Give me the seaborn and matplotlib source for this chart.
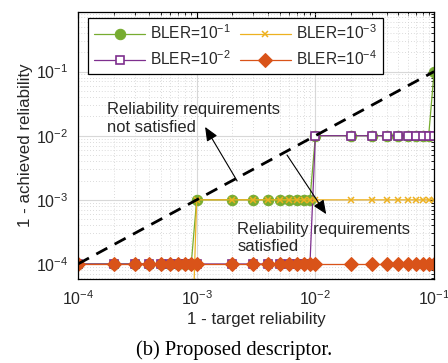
import numpy as np
import pandas as pd
import matplotlib
matplotlib.use("Agg")
import matplotlib.pyplot as plt
import seaborn as sns

# ---- data ----
target = [1e-4, 2e-4, 3e-4, 4e-4, 5e-4, 6e-4, 7e-4, 8e-4, 9e-4,
          1e-3, 2e-3, 3e-3, 4e-3, 5e-3, 6e-3, 7e-3, 8e-3, 9e-3,
          1e-2, 2e-2, 3e-2, 4e-2, 5e-2, 6e-2, 7e-2, 8e-2, 9e-2,
          1e-1]
bler1 = [1e-4] * 9 + [1e-3] * 9 + [1e-2] * 9 + [1e-1]
bler2 = [1e-4] * 18 + [1e-2] * 10
bler3 = [2e-6] * 9 + [1e-3] * 19
bler4 = [1e-4] * 28
labels = [r"BLER=10$^{-1}$", r"BLER=10$^{-2}$", r"BLER=10$^{-3}$", r"BLER=10$^{-4}$"]
diag_x = [1e-4, 1e-1]

sns.set_theme(style="white")
plt.rcParams["font.family"] = ["Liberation Sans", "DejaVu Sans"]
plt.rcParams["mathtext.fontset"] = "custom"
plt.rcParams["mathtext.rm"] = "Liberation Sans"
plt.rcParams["mathtext.it"] = "Liberation Sans:italic"
plt.rcParams["mathtext.bf"] = "Liberation Sans:bold"

fig = plt.figure(figsize=(4.48, 3.63), dpi=100)
ax = fig.add_axes([0.174, 0.231, 0.795, 0.737])

green = "#77AC30"
purple = "#7E2F8E"
yellow = "#EDB120"
orange = "#D95319"

sns.lineplot(x=target, y=bler1, ax=ax, color=green, lw=0.9, marker="o",
             markersize=7.5, markerfacecolor=green, markeredgecolor=green,
             label=labels[0], estimator=None, sort=False)
sns.lineplot(x=target, y=bler2, ax=ax, color=purple, lw=0.9, marker="s",
             markersize=6.3, markerfacecolor="white", markeredgecolor=purple,
             markeredgewidth=1.2, label=labels[1], estimator=None, sort=False)
sns.lineplot(x=target, y=bler3, ax=ax, color=yellow, lw=0.9, marker="x",
             markersize=5, markeredgecolor=yellow, markeredgewidth=1.1,
             label=labels[2], estimator=None, sort=False)
sns.lineplot(x=target, y=bler4, ax=ax, color=orange, lw=0.9, marker="D",
             markersize=7.2, markerfacecolor=orange, markeredgecolor=orange,
             label=labels[3], estimator=None, sort=False)
ax.plot(diag_x, diag_x, color="black", lw=2.0, dashes=[4.5, 3.0], zorder=5)

ax.set_xscale("log")
ax.set_yscale("log")
ax.set_xlim(1e-4, 1e-1)
ax.set_ylim(5.8e-5, 0.86)

ax.grid(True, which="major", color="#d8d8d8", lw=0.8, ls="-")
ax.grid(True, which="minor", color="#cfcfcf", lw=0.6, ls=(0, (1, 2.5)))
ax.set_axisbelow(True)

for s in ax.spines.values():
    s.set_color("black")
    s.set_linewidth(0.9)
ax.tick_params(which="both", direction="in", top=True, right=True,
               colors="black", labelcolor="#262626")
ax.tick_params(which="major", length=4, width=0.8, labelsize=11.5, pad=7)
ax.tick_params(which="minor", length=2.2, width=0.6)
ax.minorticks_on()
ax.set_xticks([1e-4, 1e-3, 1e-2, 1e-1])
ax.set_yticks([1e-4, 1e-3, 1e-2, 1e-1])

ax.set_xlabel("1 - target reliability", fontsize=12.2, color="#262626", labelpad=3)
ax.set_ylabel("1 - achieved reliability", fontsize=12.2, color="#262626", labelpad=2)

leg = ax.legend(loc="upper left", bbox_to_anchor=(0.028, 0.978), ncol=2,
                fontsize=11.2, frameon=True, fancybox=False, edgecolor="black",
                framealpha=1, handlelength=3.3, columnspacing=0.55,
                handletextpad=0.3, borderpad=0.4, labelspacing=0.45,
                borderaxespad=0)
leg.get_frame().set_linewidth(0.9)
for t in leg.get_texts():
    t.set_color("#262626")

ax.text(0.081, 0.60, "Reliability requirements\nnot satisfied",
        transform=ax.transAxes, fontsize=11.9, color="#262626",
        ha="left", va="center", linespacing=1.2)
ax.text(0.447, 0.153, "Reliability requirements\nsatisfied",
        transform=ax.transAxes, fontsize=11.9, color="#262626",
        ha="left", va="center", linespacing=1.2)
arrow = dict(arrowstyle="-|>,head_length=0.7,head_width=0.3", color="black",
             lw=0.8, shrinkA=0, shrinkB=0)
ax.annotate("", xy=(0.357, 0.569), xytext=(0.447, 0.367),
            xycoords="axes fraction", textcoords="axes fraction", arrowprops=arrow)
ax.annotate("", xy=(0.697, 0.243), xytext=(0.587, 0.464),
            xycoords="axes fraction", textcoords="axes fraction", arrowprops=arrow)

fig.text(0.523, 0.036, "(b) Proposed descriptor.", fontsize=14.8,
         family=["Liberation Serif", "DejaVu Serif"], ha="center", va="center",
         color="black")

fig.savefig("out.png", dpi=100)
